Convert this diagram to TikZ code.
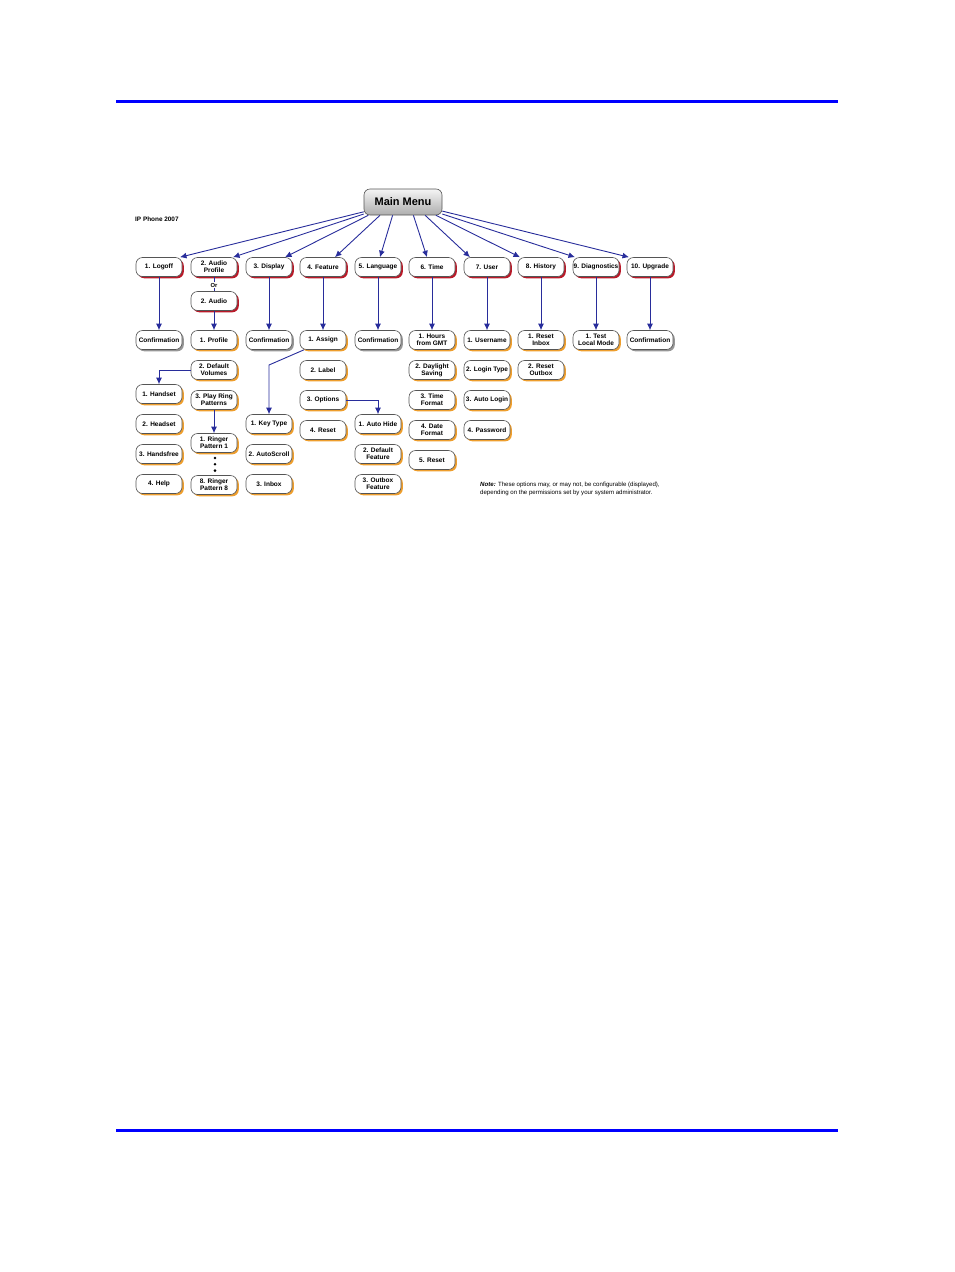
\documentclass[tikz,border=0pt]{standalone}
\usepackage{fontspec}
\setmainfont{Liberation Sans}
\usetikzlibrary{arrows.meta,shadows}
\definecolor{rulec}{RGB}{0,0,255}
\definecolor{lnc}{RGB}{40,45,155}
\definecolor{shred}{RGB}{185,25,40}
\definecolor{shorg}{RGB}{238,158,45}
\definecolor{shgray}{RGB}{150,150,150}
\definecolor{outl}{RGB}{85,85,85}
\tikzset{
 bx/.style={draw=outl, line width=0.6pt, fill=white, rounded corners=6.5pt,
   minimum width=46pt, minimum height=19pt, inner sep=0pt, align=center,
   font=\fontsize{6.5}{7}\selectfont\bfseries},
 rd/.style={bx, drop shadow={shadow xshift=1.8pt,shadow yshift=-1.8pt,fill=shred,opacity=1}},
 og/.style={bx, drop shadow={shadow xshift=1.8pt,shadow yshift=-1.8pt,fill=shorg,opacity=1}},
 gy/.style={bx, drop shadow={shadow xshift=1.8pt,shadow yshift=-1.8pt,fill=shgray,opacity=1}},
 mmbox/.style={draw=outl, line width=0.6pt, rounded corners=6pt, top color=black!4, bottom color=black!32,
   minimum width=78pt, minimum height=26pt, inner sep=0pt, font=\fontsize{11}{12}\selectfont\bfseries},
 arr/.style={draw=lnc, line width=0.9pt, -{Latex[length=6.5pt,width=6pt]}},
 plain/.style={draw=lnc, line width=0.9pt},
}
\begin{document}
\begin{tikzpicture}[x=1pt,y=-1pt]
\useasboundingbox (0,0) rectangle (954,1272);
\fill[rulec] (116,100) rectangle (838,103);
\fill[rulec] (116,1128.5) rectangle (838,1131.5);

\node[mmbox] (mm) at (403,202) {Main Menu};
\node[anchor=west, font=\fontsize{6.4}{7}\selectfont\bfseries, inner sep=0pt] (ip) at (135,219) {IP Phone 2007};

\node[rd] (l1) at (159,267) {1. Logoff};
\node[rd] (l2) at (214,267) {2. Audio\\Profile};
\node[rd] (l3) at (269,267) {3. Display};
\node[rd] (l4) at (323,267) {4. Feature};
\node[rd] (l5) at (378,267) {5. Language};
\node[rd] (l6) at (432,267) {6. Time};
\node[rd] (l7) at (487,267) {7. User};
\node[rd] (l8) at (541,267) {8. History};
\node[rd] (l9) at (596,267) {9. Diagnostics};
\node[rd] (l10) at (650,267) {10. Upgrade};

\node[font=\fontsize{5.8}{6}\selectfont\bfseries, inner sep=0.6pt] (or) at (214,285) {Or};
\node[rd] (aud) at (214,301) {2. Audio};

\node[gy] (c1) at (159,340) {Confirmation};
\node[og] (hs) at (159,394) {1. Handset};
\node[og] (hd) at (159,424) {2. Headset};
\node[og] (hf) at (159,454) {3. Handsfree};
\node[og] (hp) at (159,484) {4. Help};
\node[og] (pr) at (214,340) {1. Profile};
\node[og] (dv) at (214,370) {2. Default\\Volumes};
\node[og] (prp) at (214,400) {3. Play Ring\\Patterns};
\node[og] (rp1) at (214,443) {1. Ringer\\Pattern 1};
\node[og] (rp8) at (214,485) {8. Ringer\\Pattern 8};
\node[gy] (c3) at (269,340) {Confirmation};
\node[og] (kt) at (269,424) {1. Key Type};
\node[og] (asc) at (269,454) {2. AutoScroll};
\node[og] (ib) at (269,484) {3. Inbox};
\node[og] (as) at (323,340) {1. Assign};
\node[og] (lb) at (323,370) {2. Label};
\node[og] (op) at (323,400) {3. Options};
\node[og] (rs4) at (323,430) {4. Reset};
\node[gy] (c5) at (378,340) {Confirmation};
\node[og] (ah) at (378,424) {1. Auto Hide};
\node[og] (df) at (378,454) {2. Default\\Feature};
\node[og] (of) at (378,484) {3. Outbox\\Feature};
\node[og] (hg) at (432,340) {1. Hours\\from GMT};
\node[og] (ds) at (432,370) {2. Daylight\\Saving};
\node[og] (tf) at (432,400) {3. Time\\Format};
\node[og] (dfm) at (432,430) {4. Date\\Format};
\node[og] (rs6) at (432,460) {5. Reset};
\node[og] (un) at (487,340) {1. Username};
\node[og] (lt) at (487,370) {2. Login Type};
\node[og] (al) at (487,400) {3. Auto Login};
\node[og] (pw) at (487,430) {4. Password};
\node[og] (ri) at (541,340) {1. Reset\\Inbox};
\node[og] (ro) at (541,370) {2. Reset\\Outbox};
\node[og] (tl) at (596,340) {1. Test\\Local Mode};
\node[gy] (c10) at (650,340) {Confirmation};

% main menu fan
\draw[arr] (mm.194) -- ([xshift=21pt]l1.north);
\draw[arr] (mm.197) -- ([xshift=19pt]l2.north);
\draw[arr] (mm.201) -- ([xshift=16pt]l3.north);
\draw[arr] (mm.210) -- ([xshift=12pt]l4.north);
\draw[arr] (mm.232) -- ([xshift=2pt]l5.north);
\draw[arr] (mm.308) -- ([xshift=-5pt]l6.north);
\draw[arr] (mm.329) -- ([xshift=-17pt]l7.north);
\draw[arr] (mm.338) -- ([xshift=-21pt]l8.north);
\draw[arr] (mm.343) -- ([xshift=-21pt]l9.north);
\draw[arr] (mm.347) -- ([xshift=-21pt]l10.north);

% level 1 to level 2
\draw[arr] (l1.south) -- (c1.north);
\draw[plain] (l2.south) -- (or.north);
\draw[plain] (or.south) -- (aud.north);
\draw[arr] (aud.south) -- (pr.north);
\draw[arr] (l3.south) -- (c3.north);
\draw[arr] (l4.south) -- (as.north);
\draw[arr] (l5.south) -- (c5.north);
\draw[arr] (l6.south) -- (hg.north);
\draw[arr] (l7.south) -- (un.north);
\draw[arr] (l8.south) -- (ri.north);
\draw[arr] (l9.south) -- (tl.north);
\draw[arr] (l10.south) -- (c10.north);

% sub connectors
\draw[arr] (dv.west) -| (hs.north);
\draw[arr] (prp.south) -- (rp1.north);
\draw[arr] (op.east) -| (ah.north);
\coordinate (kb) at (269,365);
\draw[arr] ([xshift=-19pt]as.south) -- (kb) -- (kt.north);

% dots
\fill (215,458) circle (1.4);
\fill (215,464.3) circle (1.4);
\fill (215,470.6) circle (1.4);

\node[anchor=north west, align=left, font=\fontsize{6.1}{8}\selectfont, inner sep=0pt] (note) at (480,482)
 {\textbf{\textit{Note:}} These options may, or may not, be configurable (displayed),\\depending on the permissions set by your system administrator.};
\end{tikzpicture}
\end{document}
